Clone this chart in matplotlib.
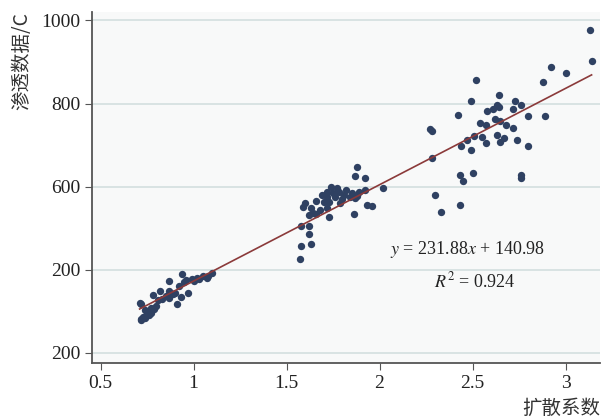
import numpy as np
import matplotlib.pyplot as plt

# diffusion coefficient (x) and penetration data (y)
left_x = [0.72, 0.72, 0.73, 0.75, 0.77, 0.79, 0.78, 0.82, 0.83, 0.87, 0.89, 0.91, 0.93, 0.97,
          0.94, 0.92, 0.96, 0.99, 1.02, 1.05, 1.08, 1.10, 0.71, 0.74, 0.76, 0.72, 0.90, 0.87,
          0.95, 1.00, 1.03, 1.07, 0.87, 0.81, 0.85, 0.74, 0.77, 0.80]
left_y = [318, 279, 287, 299, 308, 305, 340, 350, 329, 372, 341, 318, 335, 345,
          389, 360, 376, 377, 380, 384, 385, 392, 320, 303, 291, 281, 344, 350,
          371, 373, 378, 380, 332, 328, 337, 284, 296, 313]

mid_x = [1.88, 1.87, 1.92, 2.02, 1.74, 1.72, 1.75, 1.78, 1.82, 1.85, 1.89, 1.92, 1.72, 1.76,
         1.80, 1.84, 1.87, 1.66, 1.70, 1.73, 1.60, 1.59, 1.63, 1.68, 1.72, 1.93, 1.96, 1.86,
         1.73, 1.62, 1.64, 1.66, 1.58, 1.62, 1.62, 1.58, 1.63, 1.57, 1.81, 1.79, 1.69, 1.77, 1.88]
mid_y = [648, 626, 620, 598, 600, 588, 584, 588, 592, 584, 588, 592, 576, 576,
         570, 576, 572, 566, 562, 564, 560, 552, 548, 544, 548, 555, 553, 534,
         526, 532, 536, 534, 505, 506, 486, 458, 462, 425, 581, 561, 580, 597, 578]

right_x = [3.13, 3.14, 2.92, 3.00, 2.88, 2.52, 2.64, 2.49, 2.73, 2.76, 2.63, 2.64, 2.61, 2.58,
           2.72, 2.42, 2.80, 2.89, 2.62, 2.65, 2.54, 2.57, 2.68, 2.72, 2.28, 2.27, 2.51, 2.55,
           2.63, 2.67, 2.65, 2.47, 2.57, 2.74, 2.44, 2.80, 2.49, 2.28, 2.43, 2.50, 2.45, 2.76,
           2.76, 2.30, 2.43, 2.33]
right_y = [978, 903, 887, 873, 851, 856, 821, 806, 807, 797, 797, 793, 786, 783,
           788, 773, 770, 770, 764, 758, 754, 748, 749, 741, 735, 738, 722, 719,
           724, 717, 708, 712, 705, 713, 697, 699, 688, 669, 628, 634, 614, 628,
           622, 579, 555, 538]

x = np.array(left_x + mid_x + right_x)
y = np.array(left_y + mid_y + right_y)

slope, intercept, r2 = 231.88, 140.98, 0.924

y_ticks = [200, 400, 600, 800, 1000]
y_ticklabels = ['200', '200', '600', '800', '1000']
x_ticks = [0.5, 1, 1.5, 2, 2.5, 3]
x_ticklabels = ['0.5', '1', '1.5', '2', '2.5', '3']

plt.rcParams['font.family'] = ['Liberation Serif', 'DejaVu Serif']
plt.rcParams['mathtext.fontset'] = 'stix'
cjk = ['Noto Sans CJK SC', 'DejaVu Sans']

fig = plt.figure(figsize=(6.04, 4.2), dpi=100)
ax = fig.add_axes([0.152, 0.136, 0.841, 0.835])
ax.set_facecolor('#f8f9f9')

ax.scatter(x, y, s=28, color='#2f4162', zorder=3, linewidths=0)
xs = np.array([x.min(), x.max()])
ax.plot(xs, slope * xs + intercept, color='#8b3a3a', lw=1.2, zorder=4)

ax.set_xlim(0.453, 3.184)
ax.set_ylim(176, 1020)
ax.set_xticks(x_ticks)
ax.set_xticklabels(x_ticklabels)
ax.set_yticks(y_ticks)
ax.set_yticklabels(y_ticklabels)
ax.tick_params(labelsize=14, length=5, color='#555555', labelcolor='#222222')
ax.yaxis.grid(True, color='#d3dfdf', lw=1.2)
ax.set_axisbelow(True)
for s in ['top', 'right']:
    ax.spines[s].set_visible(False)
for s in ['left', 'bottom']:
    ax.spines[s].set_color('#555555')
    ax.spines[s].set_linewidth(1.3)

ax.text(2.475, 448, r'$\mathit{y}$ = 231.88$\mathit{x}$ + 140.98', fontsize=13,
        ha='center', va='center', color='#222222')
ax.text(2.51, 371, r'$\mathit{R}^2$ = 0.924', fontsize=13,
        ha='center', va='center', color='#222222')

fig.text(22 / 604, 1 - 12 / 420, '渗透数据/C', rotation=90, ha='center', va='top',
         fontsize=14, family=cjk, color='#333333')
fig.text(600 / 604, 1 - 408 / 420, '扩散系数', ha='right', va='center',
         fontsize=14, family=cjk, color='#333333')

fig.savefig('out.png', dpi=100)
